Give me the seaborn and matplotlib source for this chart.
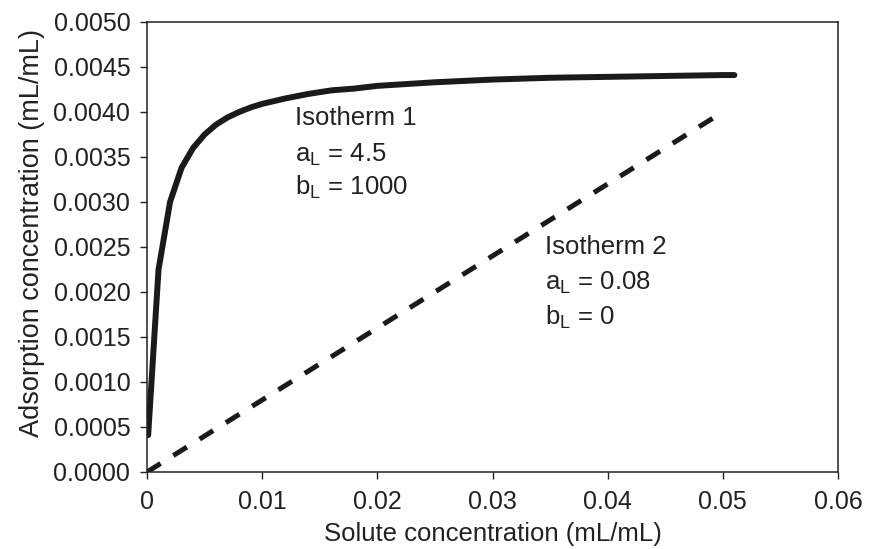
import matplotlib
matplotlib.use("Agg")
import matplotlib.pyplot as plt
import seaborn as sns
import pandas as pd

# Isotherm 1 (a_L = 4.5, b_L = 1000): solute vs adsorbed concentration
conc_1 = [0.0001, 0.001, 0.002, 0.003, 0.004, 0.005, 0.006, 0.007, 0.008,
          0.009, 0.010, 0.012, 0.014, 0.016, 0.018, 0.020, 0.025, 0.030,
          0.035, 0.040, 0.045, 0.050, 0.051]
ads_1 = [0.00041, 0.00225, 0.00300, 0.00338, 0.00360, 0.00375, 0.00386,
         0.00394, 0.00400, 0.00405, 0.00409, 0.00415, 0.00420, 0.00424,
         0.00426, 0.00429, 0.00433, 0.00436, 0.00438, 0.00439, 0.00440,
         0.00441, 0.00441]

# Isotherm 2 (a_L = 0.08, b_L = 0): linear
conc_2 = [0.0, 0.005, 0.010, 0.015, 0.020, 0.025, 0.030, 0.035, 0.040,
          0.045, 0.050]
ads_2 = [0.0, 0.0004, 0.0008, 0.0012, 0.0016, 0.0020, 0.0024, 0.0028,
         0.0032, 0.0036, 0.0040]

x_ticks = [0, 0.01, 0.02, 0.03, 0.04, 0.05, 0.06]
x_tick_labels = ["0", "0.01", "0.02", "0.03", "0.04", "0.05", "0.06"]
y_ticks = [0.0, 0.0005, 0.0010, 0.0015, 0.0020, 0.0025, 0.0030, 0.0035,
           0.0040, 0.0045, 0.0050]
y_tick_labels = [f"{v:.4f}" for v in y_ticks]

sns.set_style("ticks")
plt.rcParams["font.family"] = ["Liberation Sans", "DejaVu Sans"]
plt.rcParams["mathtext.fontset"] = "custom"
plt.rcParams["mathtext.rm"] = "Liberation Sans"

df1 = pd.DataFrame({"conc": conc_1, "ads": ads_1})
df2 = pd.DataFrame({"conc": conc_2, "ads": ads_2})

fig = plt.figure(figsize=(8.72, 5.49), dpi=100)
ax = fig.add_axes([0.1686, 0.1403, 0.7924, 0.8197])

sns.lineplot(data=df1, x="conc", y="ads", ax=ax, color="#1a1a1a",
             linewidth=4.3, sort=False, solid_capstyle="round")
sns.lineplot(data=df2, x="conc", y="ads", ax=ax, color="#1a1a1a",
             linewidth=3.6, sort=False, linestyle=(0, (3.2, 3.0)),
             dash_capstyle="butt")

ax.set_xlim(0, 0.06)
ax.set_ylim(0, 0.005)
ax.set_xticks(x_ticks)
ax.set_xticklabels(x_tick_labels)
ax.set_yticks(y_ticks)
ax.set_yticklabels(y_tick_labels)

for s in ax.spines.values():
    s.set_visible(True)
    s.set_linewidth(1.1)
    s.set_color("#222222")

ax.tick_params(axis="both", direction="out", length=5, width=1.0,
               colors="#222222", labelsize=18, labelcolor="#222222")
ax.tick_params(axis="x", pad=8)
ax.tick_params(axis="y", pad=7)

ax.set_xlabel("Solute concentration (mL/mL)", fontsize=18.5,
              color="#222222", labelpad=6)
ax.set_ylabel("Adsorption concentration (mL/mL)", fontsize=19.5,
              color="#222222")
ax.yaxis.set_label_coords(-0.148, 0.53)

txt = dict(fontsize=18.5, color="#222222", va="center", ha="left")
ax.text(0.01285, 0.00393, "Isotherm 1", **txt)
ax.text(0.01285, 0.00352, r"a$_\mathregular{L}$ = 4.5", **txt)
ax.text(0.01285, 0.00316, r"b$_\mathregular{L}$ = 1000", **txt)

ax.text(0.03455, 0.00250, "Isotherm 2", **txt)
ax.text(0.03455, 0.00210, r"a$_\mathregular{L}$ = 0.08", **txt)
ax.text(0.03455, 0.00172, r"b$_\mathregular{L}$ = 0", **txt)

fig.savefig("out.png", dpi=100)
